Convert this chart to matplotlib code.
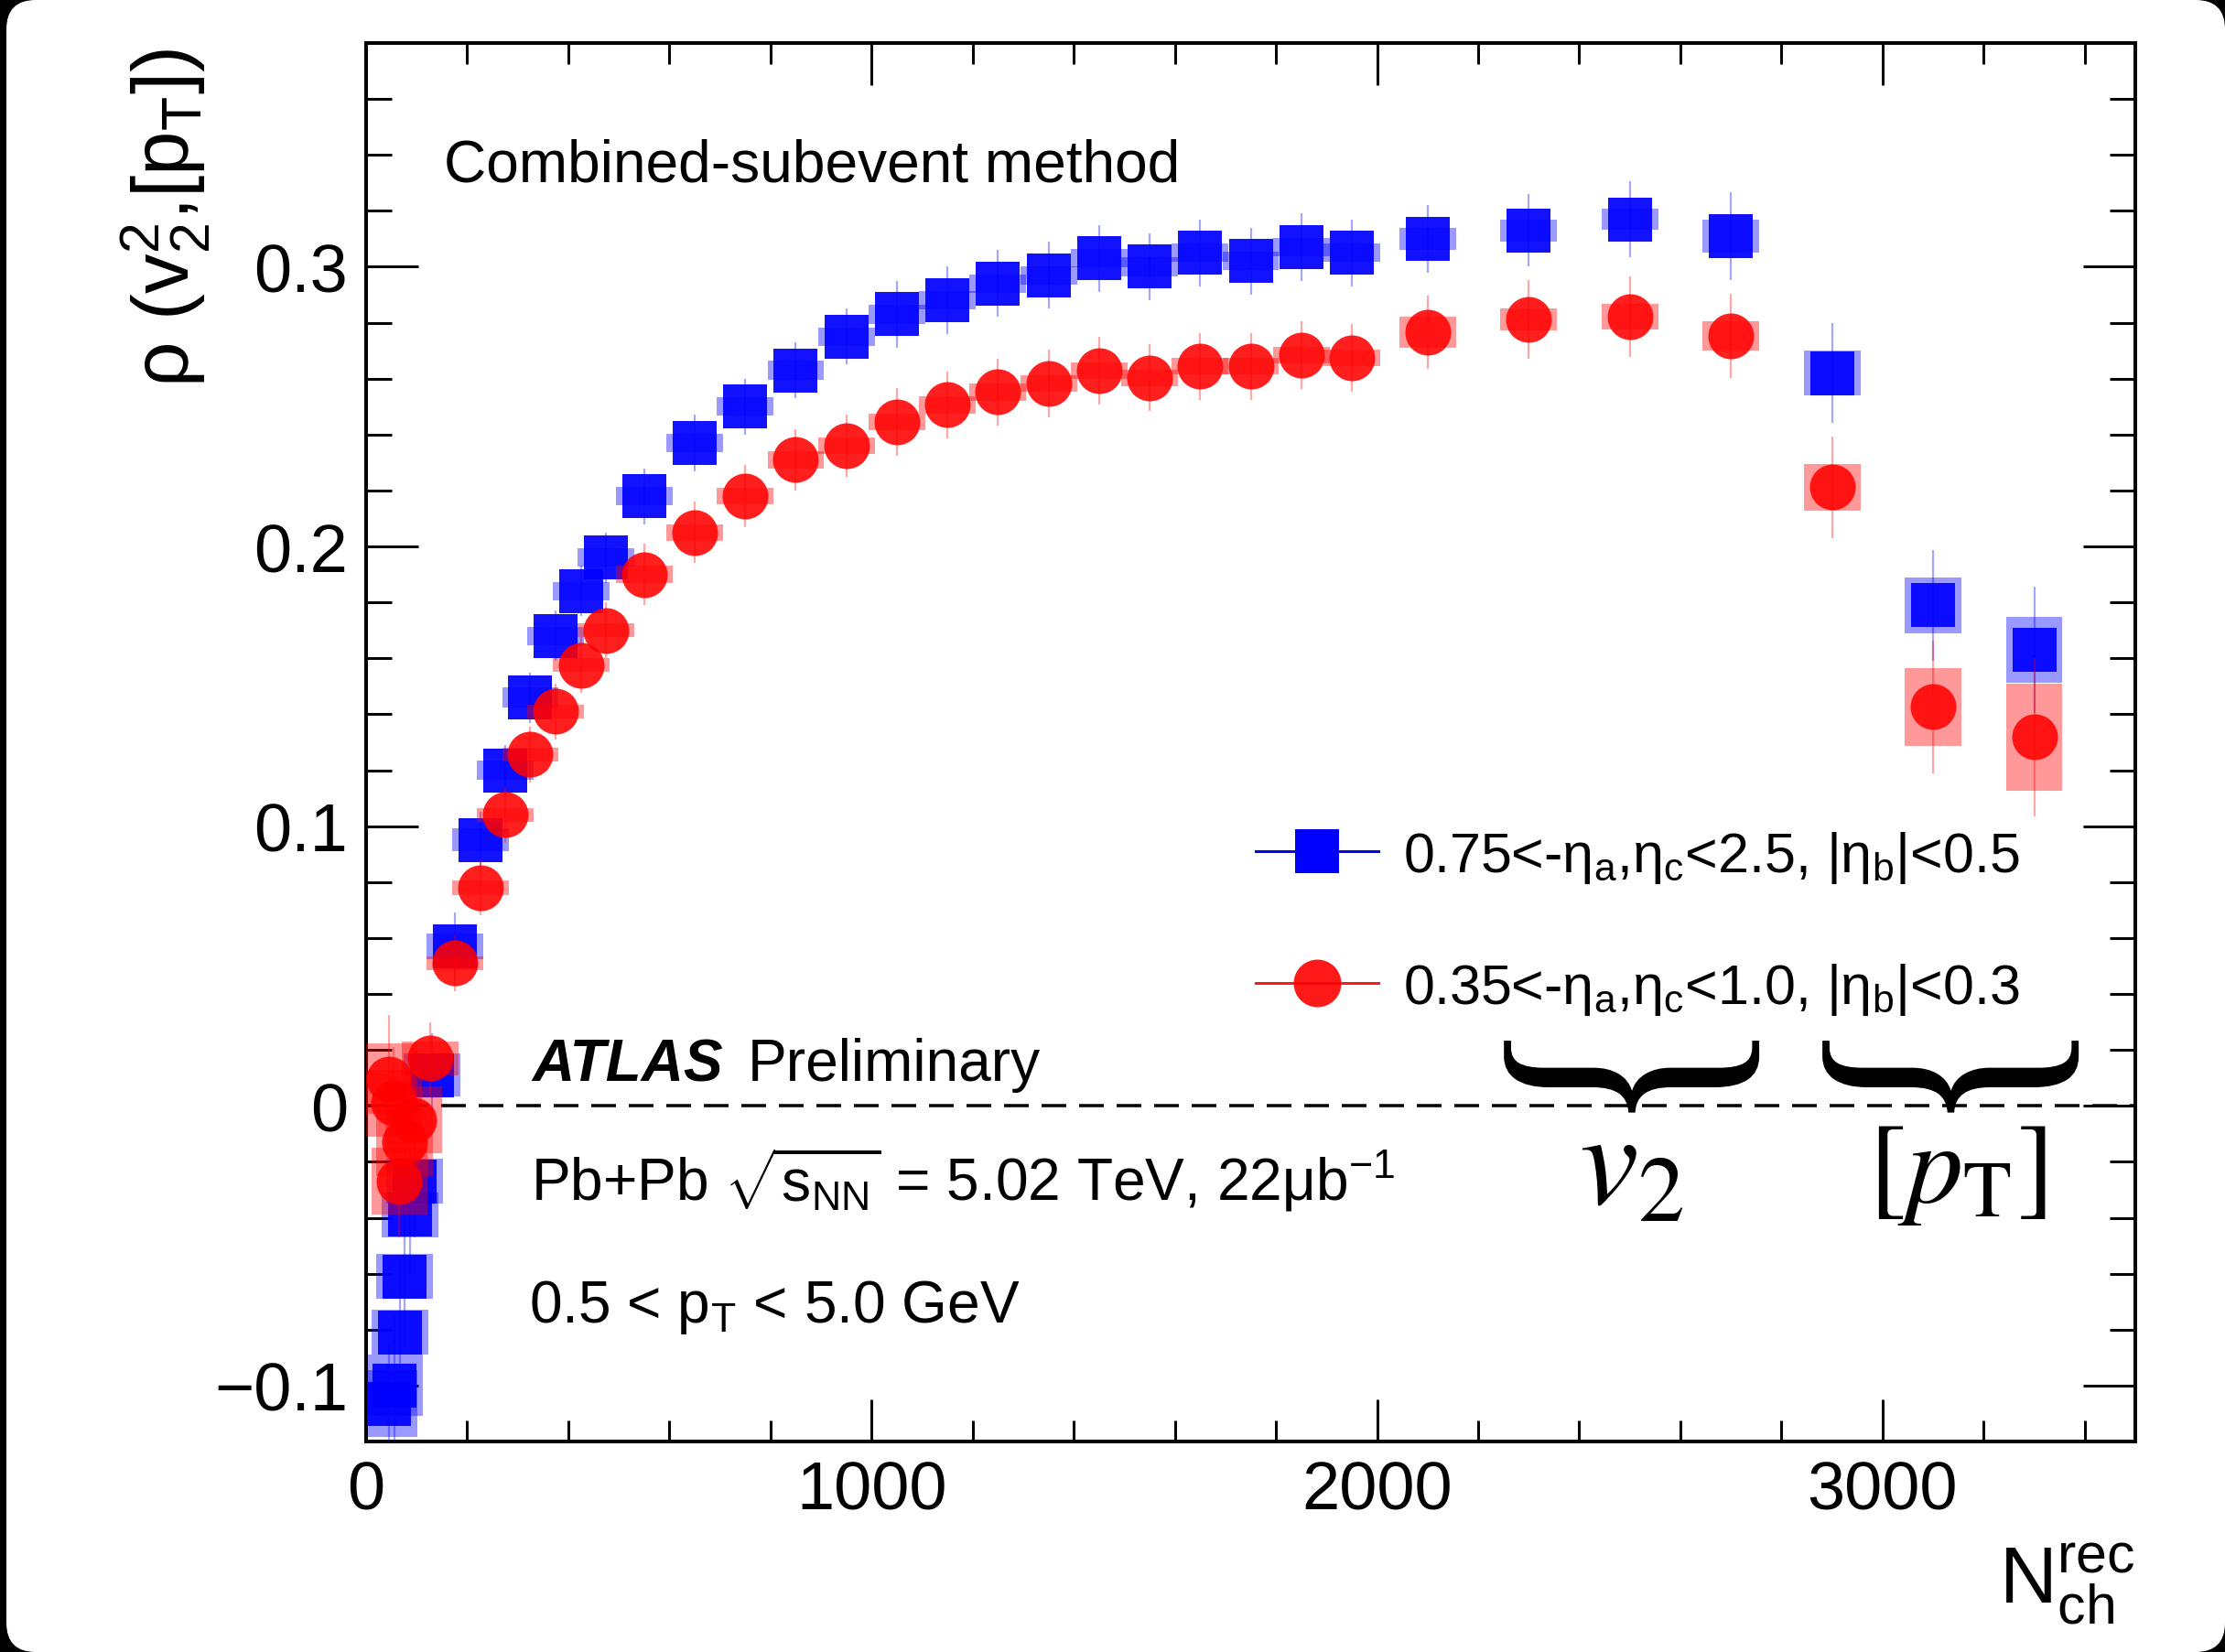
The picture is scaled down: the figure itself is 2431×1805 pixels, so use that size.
import matplotlib
matplotlib.use("Agg")
import numpy as np
import matplotlib.pyplot as plt
from matplotlib.font_manager import FontProperties
from matplotlib.lines import Line2D
from matplotlib.patches import FancyBboxPatch, PathPatch
from matplotlib.path import Path
from matplotlib.textpath import TextPath
from matplotlib.transforms import Affine2D, IdentityTransform
from matplotlib.ticker import MultipleLocator, FuncFormatter

W, H, DPI = 2431, 1806, 200


def px(p):
    # full-size pixels -> points
    return p * 72.0 / DPI


# ---- data: 0.75<-eta_a,eta_c<2.5, |eta_b|<0.5 (blue squares)
nch_blue = [45, 56, 67, 76, 87, 96, 130,
            175, 226, 275, 325, 375, 425, 475,
            550, 650, 750, 850, 950, 1050, 1150, 1250, 1350, 1450, 1550,
            1650, 1750, 1850, 1950,
            2100, 2300, 2500, 2700, 2900, 3100, 3300]
rho_blue = [-0.1065, -0.100, -0.081, -0.061, -0.039, -0.027, 0.011,
            0.057, 0.095, 0.120, 0.146, 0.168, 0.184, 0.196,
            0.218, 0.237, 0.250, 0.263, 0.275, 0.283, 0.288, 0.294, 0.297,
            0.303, 0.300, 0.305, 0.302, 0.307, 0.305,
            0.310, 0.313, 0.317, 0.311, 0.262, 0.179, 0.163]
stat_blue = [0.022, 0.025, 0.025, 0.025, 0.022, 0.020, 0.015,
             0.012, 0.010, 0.009, 0.009, 0.009, 0.009, 0.009,
             0.010, 0.010, 0.010, 0.010, 0.010, 0.012, 0.012, 0.012, 0.012,
             0.012, 0.012, 0.012, 0.012, 0.012, 0.012,
             0.012, 0.013, 0.0137, 0.0157, 0.0178, 0.0198, 0.0225]
sys_blue = [0.012, 0.011, 0.008, 0.008, 0.008, 0.008, 0.0077,
            0.0046, 0.0041, 0.0035, 0.0035, 0.0033, 0.0033, 0.0033,
            0.0033, 0.0033, 0.0033, 0.0033, 0.0033, 0.0033, 0.0033, 0.0033,
            0.0033, 0.0033, 0.0033, 0.0033, 0.0033, 0.0033, 0.0033,
            0.004, 0.004, 0.0037, 0.0059, 0.0079, 0.010, 0.0118]

# ---- data: 0.35<-eta_a,eta_c<1.0, |eta_b|<0.3 (red circles)
nch_red = [46, 55, 66, 76, 94, 127,
           176, 226, 275, 325, 375, 425, 475,
           550, 650, 750, 850, 950, 1050, 1150, 1250, 1350, 1450, 1550,
           1650, 1750, 1850, 1950,
           2100, 2300, 2500, 2700, 2900, 3100, 3300]
rho_red = [0.0096, 0.001, -0.027, -0.013, -0.005, 0.017,
           0.051, 0.078, 0.104, 0.1256, 0.141, 0.1576, 0.170,
           0.190, 0.205, 0.218, 0.231, 0.236, 0.2445, 0.2506, 0.2552,
           0.2583, 0.2628, 0.2603, 0.2644, 0.2644, 0.2684, 0.2674,
           0.2766, 0.2811, 0.2822, 0.2753, 0.2212, 0.1426, 0.1318]
stat_red = [0.023, 0.020, 0.020, 0.020, 0.015, 0.013,
            0.010, 0.010, 0.010, 0.010, 0.010, 0.010, 0.010,
            0.011, 0.011, 0.011, 0.011, 0.011, 0.012, 0.012, 0.012, 0.012,
            0.012, 0.012, 0.012, 0.012, 0.012, 0.012,
            0.013, 0.014, 0.0145, 0.0151, 0.0181, 0.0238, 0.0283]
sys_red = [0.0126, 0.012, 0.012, 0.012, 0.012, 0.006,
           0.0025, 0.0025, 0.0025, 0.0025, 0.0025, 0.0025, 0.0025,
           0.003, 0.003, 0.003, 0.003, 0.003, 0.003, 0.003, 0.003, 0.003,
           0.003, 0.003, 0.003, 0.003, 0.003, 0.003,
           0.0056, 0.004, 0.0046, 0.0052, 0.0083, 0.0139, 0.019]

label_blue = r"0.75<-η$_{\mathregular{a}}$,η$_{\mathregular{c}}$<2.5, |η$_{\mathregular{b}}$|<0.5"
label_red = r"0.35<-η$_{\mathregular{a}}$,η$_{\mathregular{c}}$<1.0, |η$_{\mathregular{b}}$|<0.3"

plt.rcParams['font.family'] = ['Liberation Sans', 'DejaVu Sans']
plt.rcParams['mathtext.fontset'] = 'custom'
plt.rcParams['mathtext.rm'] = 'Liberation Sans'
plt.rcParams['mathtext.it'] = 'Liberation Sans:italic'
plt.rcParams['mathtext.bf'] = 'Liberation Sans:bold'
plt.rcParams['lines.scale_dashes'] = False

fig = plt.figure(figsize=(W / DPI, H / DPI), dpi=DPI, facecolor='black')
# rounded white page
page = FancyBboxPatch((7, 0), W - 7, H - 1, boxstyle="round,pad=0,rounding_size=32",
                      transform=IdentityTransform(), facecolor='white',
                      edgecolor='none', zorder=-10)
fig.add_artist(page)

ax = fig.add_axes([400 / W, 1 - 1576 / H, (2333 - 400) / W, (1576 - 48) / H])
ax.set_xlim(0, 3500)
ax.set_ylim(-0.12, 0.38)

box_w = 112
blue, red = '#0000ff', '#ff0000'

# systematic boxes, stat errors, markers
ax.bar(nch_blue, 2 * np.array(sys_blue), bottom=np.array(rho_blue) - np.array(sys_blue),
       width=box_w, color=blue, alpha=0.4, linewidth=0, zorder=2)
ax.errorbar(nch_blue, rho_blue, yerr=stat_blue, fmt='none', ecolor=blue,
            elinewidth=px(2.2), alpha=0.35, zorder=3)
ax.plot(nch_blue, rho_blue, 's', color=blue, ms=px(47), mew=0, alpha=0.93, zorder=4)

ax.bar(nch_red, 2 * np.array(sys_red), bottom=np.array(rho_red) - np.array(sys_red),
       width=box_w, color=red, alpha=0.4, linewidth=0, zorder=5)
ax.errorbar(nch_red, rho_red, yerr=stat_red, fmt='none', ecolor=red,
            elinewidth=px(2.2), alpha=0.35, zorder=6)
ax.plot(nch_red, rho_red, 'o', color=red, ms=px(50), mew=0, alpha=0.88, zorder=7)

ax.axhline(0, color='black', lw=px(3.5), dashes=(px(27), px(14)), zorder=1)

# axes style (ROOT-like)
for s in ax.spines.values():
    s.set_linewidth(px(4))
ax.xaxis.set_major_locator(MultipleLocator(1000))
ax.xaxis.set_minor_locator(MultipleLocator(200))
ax.yaxis.set_major_locator(MultipleLocator(0.1))
ax.yaxis.set_minor_locator(MultipleLocator(0.02))
fmt = FuncFormatter(lambda v, _: ('%g' % round(v, 4)).replace('-', '\u2212'))
ax.xaxis.set_major_formatter(fmt)
ax.yaxis.set_major_formatter(fmt)
ax.tick_params(which='both', direction='in', top=True, right=True, width=px(3),
               labelsize=px(74))
ax.tick_params(axis='x', which='major', length=px(46), pad=px(20))
ax.tick_params(axis='x', which='minor', length=px(23))
ax.tick_params(axis='y', which='major', length=px(57), pad=px(20))
ax.tick_params(axis='y', which='minor', length=px(28))

# axis titles
ax.text(1.0, (1576 - 1752) / 1528, r"N$^{\mathregular{rec}}_{\mathregular{ch}}$",
        transform=ax.transAxes, ha='right', va='baseline', fontsize=px(87))
ax.text((207 - 400) / 1933, 0.997,
        r"ρ (v$^{\mathregular{2}}_{\mathregular{2}}$,[p$_{\mathregular{T}}$])",
        transform=ax.transAxes, rotation=90, rotation_mode='anchor',
        ha='right', va='baseline', fontsize=px(87))

# annotations
tsize = px(64)
ax.text(0.044, 0.9015, "Combined-subevent method", transform=ax.transAxes,
        fontsize=tsize, va='baseline')
ax.text(0.0936, 0.2585, "ATLAS", transform=ax.transAxes, fontsize=tsize,
        fontweight='bold', fontstyle='italic', va='baseline')
ax.text(0.2157, 0.2585, "Preliminary", transform=ax.transAxes, fontsize=tsize,
        va='baseline')
ax.text(0.093, 0.173,
        r"Pb+Pb $\sqrt{\mathregular{s}_{\mathregular{NN}}}$ = 5.02 TeV, 22μb$^{\mathregular{-1}}$",
        transform=ax.transAxes, fontsize=tsize, va='baseline')
ax.text(0.092, 0.0857, r"0.5 < p$_{\mathregular{T}}$ < 5.0 GeV", transform=ax.transAxes,
        fontsize=tsize, va='baseline')

# legend
handles = [Line2D([], [], color=blue, marker='s', ms=px(47), mew=0, lw=px(3)),
           Line2D([], [], color=red, marker='o', ms=px(52), mew=0, lw=px(3), alpha=0.9)]
ax.legend(handles, [label_blue, label_red], loc='upper left',
          bbox_to_anchor=(0.503, 0.438), frameon=False, borderpad=0,
          borderaxespad=0, handlelength=2.2, handletextpad=0.43,
          labelspacing=1.36, fontsize=px(61))


# curly braces below the legend
def brace(x0, x1, y0, y1):
    tp = TextPath((0, 0), "}", size=100, prop=FontProperties(family='Liberation Serif'))
    tp = tp.transformed(Affine2D().rotate_deg(-90))
    ext = tp.get_extents()
    v = tp.vertices.copy()
    v[:, 0] = x0 + (v[:, 0] - ext.x0) / ext.width * (x1 - x0)
    v[:, 1] = y0 + (v[:, 1] - ext.y0) / ext.height * (y1 - y0)
    ax.add_patch(PathPatch(Path(v, tp.codes), facecolor='black', edgecolor='none',
                           zorder=8))


brace(2251, 2756, -0.0024, 0.0233)
brace(2881, 3388, -0.0024, 0.0233)
ax.text(2502, -0.0347, r"$v_2$", fontsize=px(145), math_fontfamily='stix',
        ha='center', va='baseline')
ax.text(3147, -0.034, r"$[p_{\mathrm{T}}]$", fontsize=px(124), math_fontfamily='stix',
        ha='center', va='baseline')

fig.savefig("out.png", dpi=DPI, facecolor=fig.get_facecolor())
